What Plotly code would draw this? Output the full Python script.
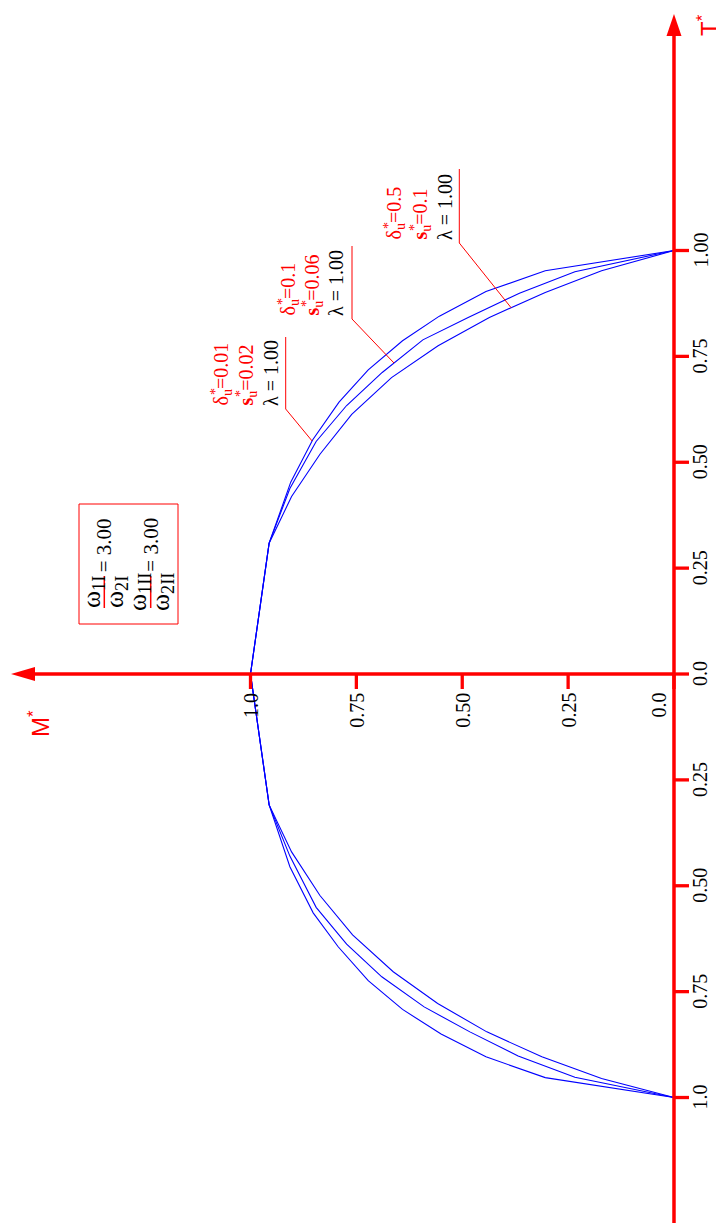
import numpy as np
import plotly.graph_objects as go

# ---- interaction curves M* - T* (three cases, lambda = 1.00) ----
# upper branch (T* >= 0), from M*=1 to T*=1
M_UP_A = [1.0, 0.956, 0.905, 0.853, 0.791, 0.722, 0.641, 0.554, 0.444, 0.304, 0.0]
T_UP_A = [0.0, 0.309, 0.453, 0.553, 0.642, 0.718, 0.787, 0.845, 0.903, 0.952, 1.0]
M_UP_B = [1.0, 0.956, 0.907, 0.845, 0.773, 0.689, 0.593, 0.486, 0.365, 0.234, 0.0]
T_UP_B = [0.0, 0.309, 0.438, 0.549, 0.634, 0.712, 0.789, 0.842, 0.899, 0.950, 1.0]
M_UP_C = [1.0, 0.956, 0.903, 0.836, 0.761, 0.667, 0.557, 0.436, 0.304, 0.171, 0.0]
T_UP_C = [0.0, 0.309, 0.419, 0.519, 0.613, 0.700, 0.775, 0.842, 0.901, 0.952, 1.0]
# lower branch (T* <= 0), from M*=1 to T*=-1
M_LO_A = [1.0, 0.956, 0.907, 0.852, 0.793, 0.722, 0.641, 0.550, 0.444, 0.304, 0.0]
T_LO_A = [0.0, -0.309, -0.455, -0.564, -0.644, -0.724, -0.792, -0.850, -0.904, -0.953, -1.0]
M_LO_B = [1.0, 0.956, 0.907, 0.845, 0.773, 0.690, 0.590, 0.482, 0.368, 0.234, 0.0]
T_LO_B = [0.0, -0.309, -0.430, -0.551, -0.638, -0.715, -0.786, -0.845, -0.902, -0.952, -1.0]
M_LO_C = [1.0, 0.956, 0.903, 0.836, 0.759, 0.663, 0.558, 0.442, 0.312, 0.171, 0.0]
T_LO_C = [0.0, -0.309, -0.420, -0.523, -0.616, -0.703, -0.778, -0.845, -0.904, -0.955, -1.0]

DELTA_U = ["0.01", "0.1", "0.5"]
S_U = ["0.02", "0.06", "0.1"]
LAMBDA = ["1.00", "1.00", "1.00"]
OMEGA_RATIO_I = "3.00"
OMEGA_RATIO_II = "3.00"

T_TICKS = [1.0, 0.75, 0.5, 0.25, 0.0, -0.25, -0.5, -0.75, -1.0]
T_TICK_TEXT = ["1.00", "0.75", "0.50", "0.25", "0.0", "0.25", "0.50", "0.75", "1.0"]
M_TICKS = [1.0, 0.75, 0.5, 0.25, 0.0]
M_TICK_TEXT = ["1.0", "0.75", "0.50", "0.25", "0.0"]

# ---- page geometry: M* grows to the left, T* grows upward ----
W, H = 716, 1223
X_RANGE = [1.5915, -0.0992]
Y_RANGE = [-1.2963, 1.5915]


def dx(px):
    return X_RANGE[0] + (X_RANGE[1] - X_RANGE[0]) * px / W


def dy(py):
    return Y_RANGE[1] - (Y_RANGE[1] - Y_RANGE[0]) * py / H


PX = (X_RANGE[0] - X_RANGE[1]) / W  # data units per pixel

RED = "#ff0000"
BLUE = "#0000ff"
SERIF = "Liberation Serif"
SANS = "Liberation Sans"

fig = go.Figure()

curves = [
    (M_UP_A, T_UP_A, M_LO_A, T_LO_A),
    (M_UP_B, T_UP_B, M_LO_B, T_LO_B),
    (M_UP_C, T_UP_C, M_LO_C, T_LO_C),
]
for mu, tu, ml, tl in curves:
    m = list(reversed(ml)) + mu[1:]
    t = list(reversed(tl)) + tu[1:]
    fig.add_trace(go.Scatter(x=m, y=t, mode="lines",
                             line=dict(color=BLUE, width=1.1),
                             hoverinfo="skip", showlegend=False))

shapes = []
annotations = []


def rot_text(x, y, text, size, color, family=SERIF, xanchor="center", yanchor="middle"):
    annotations.append(dict(x=x, y=y, text=text, showarrow=False, textangle=-90,
                            xanchor=xanchor, yanchor=yanchor, borderpad=0,
                            font=dict(family=family, size=size, color=color)))


# ---- axes with arrow heads ----
shapes.append(dict(type="line", x0=dx(30), x1=0, y0=0, y1=0,
                   line=dict(color=RED, width=3.5)))
shapes.append(dict(type="path", path=f"M {dx(11)} 0 L {dx(35)} {7 * PX} L {dx(35)} {-7 * PX} Z",
                   fillcolor=RED, line=dict(color=RED, width=0)))
shapes.append(dict(type="line", x0=0, x1=0, y0=dy(1230), y1=dy(32),
                   line=dict(color=RED, width=3.5)))
shapes.append(dict(type="path", path=f"M 0 {dy(14)} L {7.5 * PX} {dy(36)} L {-7.5 * PX} {dy(36)} Z",
                   fillcolor=RED, line=dict(color=RED, width=0)))

# ticks and tick labels on the T* axis
for tv, tt in zip(T_TICKS, T_TICK_TEXT):
    shapes.append(dict(type="line", x0=0, x1=-15 * PX, y0=tv, y1=tv,
                       line=dict(color=RED, width=3.3)))
    rot_text(dx(700), tv, tt, 20, "black")

# ticks and tick labels on the M* axis
for mv, mt in zip(M_TICKS, M_TICK_TEXT):
    shapes.append(dict(type="line", x0=mv, x1=mv, y0=0, y1=-15 * PX,
                       line=dict(color=RED, width=3.3)))
    if mv == 0:
        rot_text(dx(670), dy(692), mt, 20, "black", xanchor="right", yanchor="top")
    else:
        rot_text(mv, dy(692), mt, 20, "black", yanchor="top")

# axis titles
rot_text(dx(39), dy(724), "M<sup>*</sup>", 24, RED, family=SANS)
rot_text(dx(708), dy(25), "T<sup>*</sup>", 24, RED, family=SANS)

# ---- curve labels with leader lines ----
# (curve, T* of the leader end, x of the underline, top / bottom of the underline, text columns)
labels = [
    (curves[0], dy(441), 285.7, 337, 409, [222, 247, 271]),
    (curves[1], dy(363), 352.0, 246, 319, [289, 313, 336]),
    (curves[2], dy(307.7), 459.3, 169, 243, [395, 421, 445]),
]
for i, (cv, t_end, ux, utop, ubot, cols) in enumerate(labels):
    mu, tu = cv[0], cv[1]
    m_end = float(np.interp(t_end, tu, mu))
    shapes.append(dict(type="line", x0=dx(ux), x1=dx(ux), y0=dy(utop), y1=dy(ubot),
                       line=dict(color=RED, width=1)))
    shapes.append(dict(type="line", x0=dx(ux), x1=m_end, y0=dy(ubot), y1=t_end,
                       line=dict(color=RED, width=1)))
    base = ubot - 2
    rot_text(dx(cols[0]), dy(base), "δ<sub>u</sub>=" + DELTA_U[i], 20, RED, yanchor="bottom")
    rot_text(dx(cols[0] - 7), dy(base - 15), "*", 14, RED)
    rot_text(dx(cols[1]), dy(base), "<b>s</b><sub>u</sub>=" + S_U[i], 20, RED, yanchor="bottom")
    rot_text(dx(cols[1] - 7), dy(base - 13), "*", 14, RED)
    rot_text(dx(cols[2]), dy(base), "λ = " + LAMBDA[i], 20, "black", yanchor="bottom")

# ---- frequency ratio box ----
shapes.append(dict(type="rect", x0=dx(79), x1=dx(178), y0=dy(504), y1=dy(624),
                   line=dict(color=RED, width=1)))
frac = [
    (104.3, 93, 116, "ω<sub>1I</sub>", "ω<sub>2I</sub>", OMEGA_RATIO_I),
    (150.7, 139, 162, "ω<sub>1II</sub>", "ω<sub>2II</sub>", OMEGA_RATIO_II),
]
for bx, nx, dxx, num, den, val in frac:
    shapes.append(dict(type="line", x0=dx(bx), x1=dx(bx), y0=dy(576), y1=dy(608),
                       line=dict(color=RED, width=1.5)))
    rot_text(dx(nx), dy(592), num, 26, "black")
    rot_text(dx(dxx), dy(592), den, 26, "black")
    rot_text(dx(bx), dy(545), "= " + val, 21, "black")

fig.update_layout(
    width=W, height=H,
    margin=dict(l=0, r=0, t=0, b=0),
    paper_bgcolor="white", plot_bgcolor="white",
    xaxis=dict(range=X_RANGE, visible=False, fixedrange=True),
    yaxis=dict(range=Y_RANGE, visible=False, fixedrange=True),
    shapes=shapes,
    annotations=annotations,
    showlegend=False,
)

fig.write_html("out.html")
